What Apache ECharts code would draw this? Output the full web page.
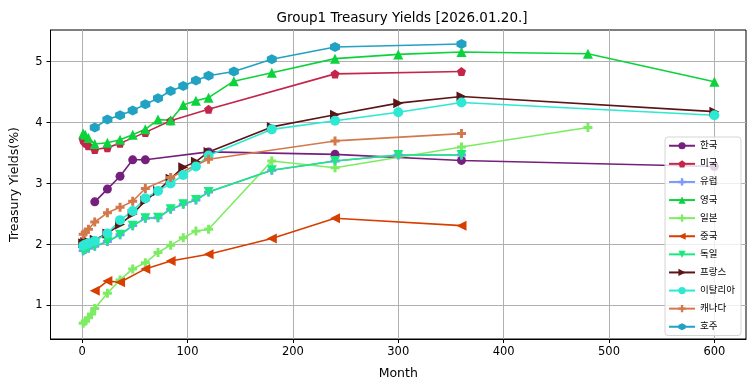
<!DOCTYPE html>
<html>
<head>
<meta charset="utf-8">
<script src="https://cdn.jsdelivr.net/npm/echarts@6/dist/echarts.min.js"></script>
<style>html,body{margin:0;padding:0;background:#fff;}#c{width:755px;height:391px;}</style>
</head>
<body>
<div id="c"></div>
<script>
// ---- data (months -> yield %) ----
const koreaMonths = [12, 24, 36, 48, 60, 120, 240, 360, 600];
const koreaYields = [2.70, 2.91, 3.12, 3.39, 3.39, 3.52, 3.48, 3.38, 3.28];

const usMonths = [1, 2, 3, 4, 6, 12, 24, 36, 60, 84, 120, 240, 360];
const usYields = [3.72, 3.70, 3.68, 3.66, 3.62, 3.56, 3.59, 3.66, 3.84, 4.03, 4.22, 4.80, 4.84];

const germanyMonths = [1, 3, 6, 12, 24, 36, 48, 60, 72, 84, 96, 108, 120, 180, 240, 300, 360];
const germanyYields = [1.90, 1.92, 1.94, 1.97, 2.05, 2.16, 2.31, 2.43, 2.44, 2.58, 2.66, 2.73, 2.86, 3.22, 3.37, 3.47, 3.47];

const europeMonths = [1, 3, 6, 12, 24, 36, 48, 60, 72, 84, 96, 108, 120, 180, 240, 300, 360];
const europeYields = [1.90, 1.92, 1.94, 1.97, 2.05, 2.16, 2.31, 2.43, 2.44, 2.58, 2.66, 2.73, 2.86, 3.22, 3.37, 3.47, 3.47];

const ukMonths = [1, 3, 6, 12, 24, 36, 48, 60, 72, 84, 96, 108, 120, 144, 180, 240, 300, 360, 480, 600];
const ukYields = [3.82, 3.80, 3.75, 3.65, 3.67, 3.72, 3.80, 3.89, 4.05, 4.04, 4.29, 4.36, 4.41, 4.68, 4.82, 5.05, 5.12, 5.16, 5.13, 4.67];

const japanMonths = [1, 3, 6, 9, 12, 24, 36, 48, 60, 72, 84, 96, 108, 120, 180, 240, 360, 480];
const japanYields = [0.71, 0.74, 0.80, 0.86, 0.95, 1.20, 1.42, 1.60, 1.70, 1.87, 1.99, 2.11, 2.22, 2.25, 3.37, 3.26, 3.60, 3.92];

const chinaMonths = [12, 24, 36, 60, 84, 120, 180, 240, 360];
const chinaYields = [1.24, 1.40, 1.38, 1.60, 1.73, 1.84, 2.10, 2.43, 2.31];

const franceMonths = [1, 3, 6, 12, 24, 36, 48, 60, 72, 84, 96, 108, 120, 180, 240, 300, 360, 600];
const franceYields = [2.02, 2.04, 2.05, 2.08, 2.18, 2.33, 2.50, 2.72, 2.88, 3.08, 3.27, 3.36, 3.52, 3.93, 4.13, 4.32, 4.43, 4.18];

const italyMonths = [1, 3, 6, 12, 24, 36, 48, 60, 72, 84, 96, 108, 120, 180, 240, 300, 360, 600];
const italyYields = [1.98, 2.00, 2.02, 2.06, 2.18, 2.40, 2.55, 2.76, 2.88, 3.00, 3.14, 3.28, 3.46, 3.89, 4.03, 4.17, 4.33, 4.12];

const canadaMonths = [1, 3, 6, 12, 24, 36, 48, 60, 84, 120, 240, 360];
const canadaYields = [2.17, 2.20, 2.25, 2.37, 2.52, 2.61, 2.71, 2.92, 3.10, 3.40, 3.70, 3.82];

const australiaMonths = [12, 24, 36, 48, 60, 72, 84, 96, 108, 120, 144, 180, 240, 360];
const australiaYields = [3.92, 4.05, 4.12, 4.20, 4.30, 4.40, 4.52, 4.60, 4.69, 4.77, 4.84, 5.04, 5.24, 5.29];

const xTicks = [0, 100, 200, 300, 400, 500, 600];
const yTicks = [1, 2, 3, 4, 5];

// ---- styling ----
const FONT = "'DejaVu Sans', 'Noto Sans CJK KR', sans-serif";
const SYM = {
  pentagon: 'path://M0,-1 L0.951,-0.309 L0.588,0.809 L-0.588,0.809 L-0.951,-0.309 Z',
  plus: 'path://M-0.33,-1 L0.33,-1 L0.33,-0.33 L1,-0.33 L1,0.33 L0.33,0.33 L0.33,1 L-0.33,1 L-0.33,0.33 L-1,0.33 L-1,-0.33 L-0.33,-0.33 Z',
  up: 'path://M0,-1 L1,0.8 L-1,0.8 Z',
  down: 'path://M-1,-0.8 L1,-0.8 L0,1 Z',
  left: 'path://M-1,0 L0.8,-1 L0.8,1 Z',
  right: 'path://M1,0 L-0.8,-1 L-0.8,1 Z',
  hex: 'path://M0,-1 L0.866,-0.5 L0.866,0.5 L0,1 L-0.866,0.5 L-0.866,-0.5 Z'
};

function mk(name, months, vals, color, symbol, size) {
  return {
    name: name, type: 'line',
    data: months.map((m, i) => [m, vals[i]]),
    symbol: symbol, symbolSize: size || 9, showAllSymbol: true,
    lineStyle: { color: color, width: 1.6 },
    itemStyle: { color: color, borderWidth: 0 },
    emphasis: { disabled: true },
    animation: false
  };
}

const series = [
  mk('한국', koreaMonths, koreaYields, '#74207c', 'circle', 9),
  mk('미국', usMonths, usYields, '#c3254b', SYM.pentagon, 9),
  mk('유럽', europeMonths, europeYields, '#7a98ff', SYM.plus, 9),
  mk('영국', ukMonths, ukYields, '#0cd33c', SYM.up, 10),
  mk('일본', japanMonths, japanYields, '#7ced62', SYM.plus, 9),
  mk('중국', chinaMonths, chinaYields, '#d83e00', SYM.left, 10),
  mk('독일', germanyMonths, germanyYields, '#19e97e', SYM.down, 10),
  mk('프랑스', franceMonths, franceYields, '#5c1416', SYM.right, 10),
  mk('이탈리아', italyMonths, italyYields, '#2de8d2', 'circle', 10),
  mk('캐나다', canadaMonths, canadaYields, '#d4784c', SYM.plus, 9),
  mk('호주', australiaMonths, australiaYields, '#22a2c2', SYM.hex, 10)
];

const chart = echarts.init(document.getElementById('c'), null, { renderer: 'canvas' });
chart.setOption({
  backgroundColor: '#fff',
  animation: false,
  textStyle: { fontFamily: FONT },
  title: {
    text: 'Group1 Treasury Yields [2026.01.20.]',
    left: 397, top: 7, textAlign: 'center',
    textStyle: { fontFamily: FONT, fontSize: 13.5, fontWeight: 'normal', color: '#000' }
  },
  grid: { left: 48, right: 9, top: 30, bottom: 52, show: true, borderColor: '#000', borderWidth: 1, backgroundColor: 'transparent' },
  legend: {
    orient: 'vertical', right: 14, top: 137,
    itemWidth: 26, itemHeight: 9, itemGap: 8.6,
    backgroundColor: 'rgba(255,255,255,0.8)', borderColor: '#d5d5d5', borderWidth: 1, borderRadius: 3,
    padding: [4, 6, 4, 3],
    textStyle: { fontFamily: FONT, fontSize: 9.5, color: '#000' },
    data: series.map(s => s.name)
  },
  xAxis: {
    type: 'value', min: -30, max: 630,
    name: 'Month', nameLocation: 'middle', nameGap: 28,
    nameTextStyle: { fontFamily: FONT, fontSize: 12.5, color: '#000' },
    axisLine: { show: true, onZero: false, lineStyle: { color: '#000', width: 1 } },
    axisTick: { show: true, inside: false, length: 4, customValues: xTicks, lineStyle: { color: '#000' } },
    axisLabel: { customValues: xTicks, color: '#000', fontSize: 11.5, fontFamily: FONT, margin: 7 },
    splitLine: { show: true, lineStyle: { color: '#b0b0b0', width: 1 } }
  },
  yAxis: {
    type: 'value', min: 0.45, max: 5.52,
    name: 'Treasury Yields(%)', nameLocation: 'middle', nameGap: 30, nameRotate: 90,
    nameTextStyle: { fontFamily: FONT, fontSize: 12.5, color: '#000' },
    axisLine: { show: true, onZero: false, lineStyle: { color: '#000', width: 1 } },
    axisTick: { show: true, inside: false, length: 4, customValues: yTicks, lineStyle: { color: '#000' } },
    axisLabel: { customValues: yTicks, color: '#000', fontSize: 11.5, fontFamily: FONT, margin: 8 },
    splitLine: { show: true, lineStyle: { color: '#b0b0b0', width: 1 } }
  },
  series: series
});
</script>
</body>
</html>
